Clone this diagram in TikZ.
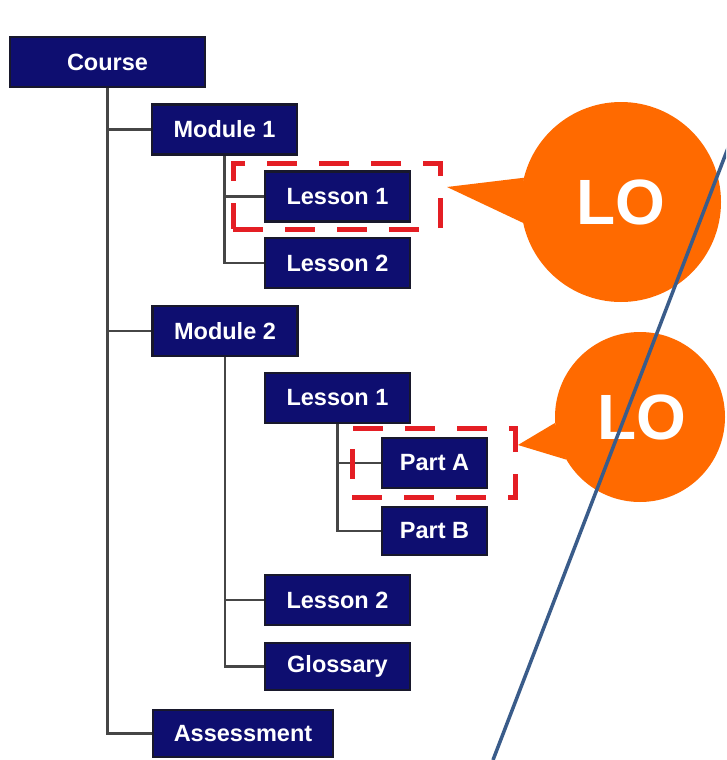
\documentclass[tikz,border=0pt]{standalone}
\usepackage{fontspec}
\setmainfont{Liberation Sans}
\definecolor{navy}{RGB}{14,14,112}
\definecolor{navyedge}{RGB}{24,24,44}
\definecolor{conn}{RGB}{70,70,70}
\definecolor{dashred}{RGB}{228,30,36}
\definecolor{loorange}{RGB}{255,106,0}
\definecolor{steel}{RGB}{58,92,138}
\begin{document}
\begin{tikzpicture}[x=1pt,y=-1pt,
  box/.style={rectangle, fill=navy, draw=navyedge, line width=2.6pt, inner sep=0pt,
    minimum width=145pt, minimum height=50pt, text=white,
    font=\fontsize{23.5}{23.5}\selectfont\bfseries},
  link/.style={draw=conn, line width=2.2pt},
  redbox/.style={rectangle, draw=dashred, line width=5pt, dash pattern=on 30pt off 22pt, inner sep=0pt},
  bubble/.style={circle, fill=loorange, inner sep=0pt},
  lotext/.style={text=white, font=\fontsize{64}{64}\selectfont\bfseries},
  pointer/.style={fill=loorange},
  slash/.style={draw=steel, line width=3.5pt}
]
\useasboundingbox (0,0) rectangle (726,760);
\fill[white] (0,0) rectangle (726,760);
\clip (0,0) rectangle (726,760);

% node positions (drawn after connectors)
\path (107.5,62) coordinate (pcourse) (224.5,129.5) coordinate (pm1)
  (337.5,196.5) coordinate (pm1l1) (337.5,263) coordinate (pm1l2)
  (225,331) coordinate (pm2) (337.5,398) coordinate (pm2l1)
  (434.5,463) coordinate (ppa) (434.5,531) coordinate (ppb)
  (337.5,600) coordinate (pm2l2) (337.5,666.5) coordinate (pgl)
  (243,733.5) coordinate (pas);

% connectors first (underneath), via invisible copies of the boxes
\begin{scope}[every node/.style={opacity=0}]
\node[box, minimum width=195pt] (course) at (pcourse) {Course};
\node[box] (m1) at (pm1) {Module 1};
\node[box] (m1l1) at (pm1l1) {Lesson 1};
\node[box] (m1l2) at (pm1l2) {Lesson 2};
\node[box] (m2) at (pm2) {Module 2};
\node[box] (m2l1) at (pm2l1) {Lesson 1};
\node[box, minimum width=105pt] (pa) at (ppa) {Part A};
\node[box, minimum width=105pt, minimum height=48pt] (pb) at (ppb) {Part B};
\node[box] (m2l2) at (pm2l2) {Lesson 2};
\node[box, minimum height=47pt] (gl) at (pgl) {Glossary};
\node[box, minimum width=180pt, minimum height=47pt] (as) at (pas) {Assessment};
\end{scope}

\path[link] (course.south) |- (m1.west);
\path[link] (course.south) |- (m2.west);
\path[link] (course.south) |- (as.west);
\path[link] (m1.south) |- (m1l1.west);
\path[link] (m1.south) |- (m1l2.west);
\path[link] (m2.south) |- (m2l2.west);
\path[link] (m2.south) |- (gl.west);
\path[link] (m2l1.south) |- (pa.west);
\path[link] (m2l1.south) |- (pb.west);

% visible boxes
\node[box, minimum width=195pt] (courseV) at (course) {Course};
\node[box] (m1V) at (m1) {Module 1};
\node[box] (m1l1V) at (m1l1) {Lesson 1};
\node[box] (m1l2V) at (m1l2) {Lesson 2};
\node[box] (m2V) at (m2) {Module 2};
\node[box] (m2l1V) at (m2l1) {Lesson 1};
\node[box, minimum width=105pt] (paV) at (pa) {Part A};
\node[box, minimum width=105pt, minimum height=48pt] (pbV) at (pb) {Part B};
\node[box] (m2l2V) at (m2l2) {Lesson 2};
\node[box, minimum height=47pt] (glV) at (gl) {Glossary};
\node[box, minimum width=180pt, minimum height=47pt] (asV) at (as) {Assessment};

% red dashed highlights
\node[redbox, minimum width=207pt, minimum height=66pt] (hl1) at (336.5,196) {};
\node[redbox, minimum width=163pt, minimum height=69pt] (hl2) at (433.5,462.5) {};

% callouts
\node[bubble, minimum size=200pt] (lo1) at (621,202) {};
\fill[pointer] (447,187) coordinate (tip1) -- (lo1.166) -- (lo1.192) -- cycle;
\node[lotext] (lo1t) at (lo1.center) {LO};

\node[bubble, minimum size=170pt] (lo2) at (640,417) {};
\fill[pointer] (518,445) coordinate (tip2) -- (lo2.184) -- (lo2.210) -- cycle;
\node[lotext] (lo2t) at ([xshift=2pt]lo2.center) {LO};

% steel slash
\coordinate (s1) at (733,135);
\coordinate (s2) at (493,760);
\path[slash] (s1) -- (s2);
\end{tikzpicture}
\end{document}
